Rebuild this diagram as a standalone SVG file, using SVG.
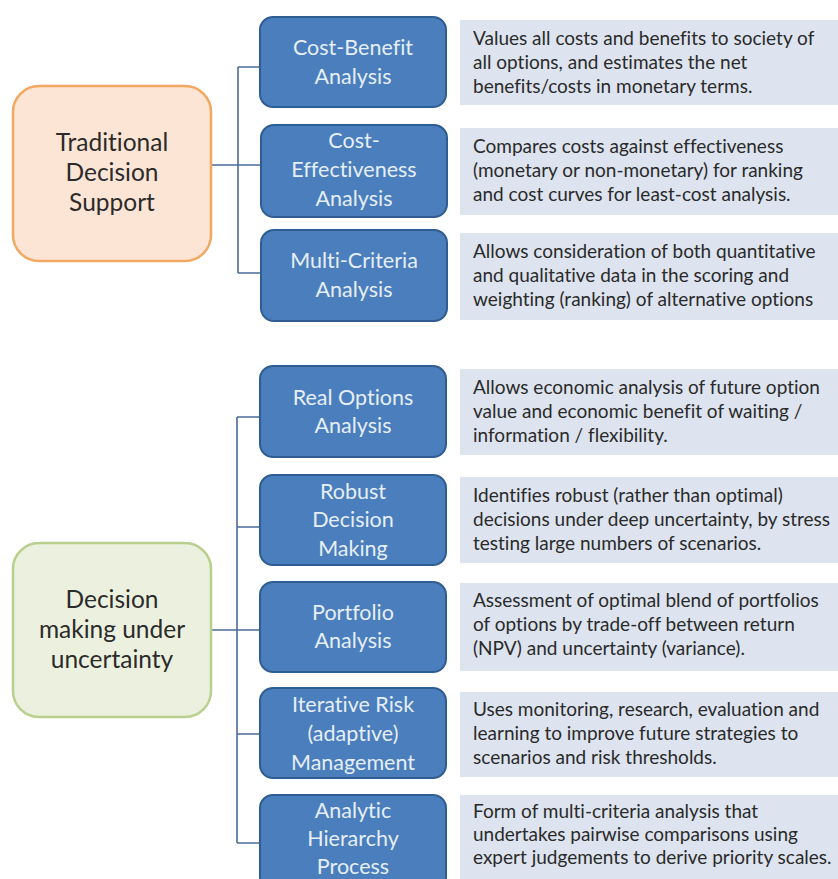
<svg xmlns="http://www.w3.org/2000/svg" width="838" height="879" viewBox="0 0 838 879">
<style>
.bg{fill:#ffffff}
text{font-variant-ligatures:none}
.cat{stroke-width:2.5}
.cat-o{fill:#fce5d5;stroke:#f3a862}
.cat-g{fill:#ebf1de;stroke:#b9cf8e}
.cat-t{font-family:Lato,"Liberation Sans",sans-serif;font-size:24.5px;fill:#2b2b2b;text-anchor:middle}
.m{fill:#4a7ebc;stroke:#2e5d93;stroke-width:2}
.m-t{font-family:Lato,"Liberation Sans",sans-serif;font-size:21.5px;fill:#e6eef8;text-anchor:middle}
.d{fill:#dde4ef}
.d-t{font-family:Lato,"Liberation Sans",sans-serif;font-size:19px;fill:#2a2a2a}
.c{fill:none;stroke:#4b6b98;stroke-width:1.6}
</style>
<rect class="bg" x="0" y="0" width="838" height="879"/>

<g id="connectors">
<path class="c" d="M211,165 H260 M238,67 V273 M238,67 H260 M238,273 H260"/>
<path class="c" d="M211,630 H260 M237,417 V843 M237,417 H260 M237,527 H260 M237,734 H260 M237,843 H260"/>
</g>

<g id="traditional">
<rect class="cat cat-o" x="13" y="86" width="198" height="175" rx="26"/>
<text class="cat-t"><tspan x="112" y="151">Traditional</tspan><tspan x="112" y="181">Decision</tspan><tspan x="112" y="211">Support</tspan></text>
</g>
<g id="uncertainty">
<rect class="cat cat-g" x="13" y="543" width="198" height="174" rx="26"/>
<text class="cat-t"><tspan x="112" y="608">Decision</tspan><tspan x="112" y="638">making under</tspan><tspan x="112" y="668">uncertainty</tspan></text>
</g>

<g id="cba">
<rect class="m" x="260" y="17" width="186" height="90" rx="13"/>
<text class="m-t"><tspan x="353" y="55">Cost-Benefit</tspan><tspan x="353" y="84">Analysis</tspan></text>
</g>
<g id="cea">
<rect class="m" x="261" y="125" width="186" height="92" rx="13"/>
<text class="m-t"><tspan x="354" y="148">Cost-</tspan><tspan x="354" y="177">Effectiveness</tspan><tspan x="354" y="206">Analysis</tspan></text>
</g>
<g id="mca">
<rect class="m" x="261" y="230" width="186" height="91" rx="13"/>
<text class="m-t"><tspan x="354" y="268">Multi-Criteria</tspan><tspan x="354" y="297">Analysis</tspan></text>
</g>
<g id="roa">
<rect class="m" x="260" y="366" width="186" height="91" rx="13"/>
<text class="m-t"><tspan x="353" y="405">Real Options</tspan><tspan x="353" y="433">Analysis</tspan></text>
</g>
<g id="rdm">
<rect class="m" x="260" y="475" width="186" height="90" rx="13"/>
<text class="m-t"><tspan x="353" y="499">Robust</tspan><tspan x="353" y="527">Decision</tspan><tspan x="353" y="556">Making</tspan></text>
</g>
<g id="pa">
<rect class="m" x="260" y="582" width="186" height="90" rx="13"/>
<text class="m-t"><tspan x="353" y="620">Portfolio</tspan><tspan x="353" y="648">Analysis</tspan></text>
</g>
<g id="irm">
<rect class="m" x="260" y="688" width="186" height="90" rx="13"/>
<text class="m-t"><tspan x="353" y="712">Iterative Risk</tspan><tspan x="353" y="741">(adaptive)</tspan><tspan x="353" y="770">Management</tspan></text>
</g>
<g id="ahp">
<rect class="m" x="260" y="795" width="186" height="95" rx="13"/>
<text class="m-t"><tspan x="353" y="818">Analytic</tspan><tspan x="353" y="846">Hierarchy</tspan><tspan x="353" y="874">Process</tspan></text>
</g>

<g id="desc-cba">
<rect class="d" x="460" y="20" width="390" height="85"/>
<text class="d-t"><tspan x="473" y="45">Values all costs and benefits to society of</tspan><tspan x="473" y="69">all options, and estimates the net</tspan><tspan x="473" y="93">benefits/costs in monetary terms.</tspan></text>
</g>
<g id="desc-cea">
<rect class="d" x="460" y="128" width="390" height="87"/>
<text class="d-t"><tspan x="473" y="153">Compares costs against effectiveness</tspan><tspan x="473" y="177">(monetary or non-monetary) for ranking</tspan><tspan x="473" y="201">and cost curves for least-cost analysis.</tspan></text>
</g>
<g id="desc-mca">
<rect class="d" x="460" y="233" width="390" height="87"/>
<text class="d-t"><tspan x="473" y="258">Allows consideration of both quantitative</tspan><tspan x="473" y="282">and qualitative data in the scoring and</tspan><tspan x="473" y="306">weighting (ranking) of alternative options</tspan></text>
</g>
<g id="desc-roa">
<rect class="d" x="460" y="369" width="390" height="86"/>
<text class="d-t"><tspan x="473" y="394">Allows economic analysis of future option</tspan><tspan x="473" y="418">value and economic benefit of waiting /</tspan><tspan x="473" y="442">information / flexibility.</tspan></text>
</g>
<g id="desc-rdm">
<rect class="d" x="460" y="477" width="390" height="86"/>
<text class="d-t"><tspan x="473" y="502">Identifies robust (rather than optimal)</tspan><tspan x="473" y="526">decisions under deep uncertainty, by stress</tspan><tspan x="473" y="550">testing large numbers of scenarios.</tspan></text>
</g>
<g id="desc-pa">
<rect class="d" x="460" y="583" width="390" height="88"/>
<text class="d-t"><tspan x="473" y="607">Assessment of optimal blend of portfolios</tspan><tspan x="473" y="631">of options by trade-off between return</tspan><tspan x="473" y="655">(NPV) and uncertainty (variance).</tspan></text>
</g>
<g id="desc-irm">
<rect class="d" x="460" y="692" width="390" height="85"/>
<text class="d-t"><tspan x="473" y="716">Uses monitoring, research, evaluation and</tspan><tspan x="473" y="740">learning to improve future strategies to</tspan><tspan x="473" y="764">scenarios and risk thresholds.</tspan></text>
</g>
<g id="desc-ahp">
<rect class="d" x="460" y="795" width="390" height="95"/>
<text class="d-t"><tspan x="473" y="818">Form of multi-criteria analysis that</tspan><tspan x="473" y="841">undertakes pairwise comparisons using</tspan><tspan x="473" y="864">expert judgements to derive priority scales.</tspan></text>
</g>
</svg>
